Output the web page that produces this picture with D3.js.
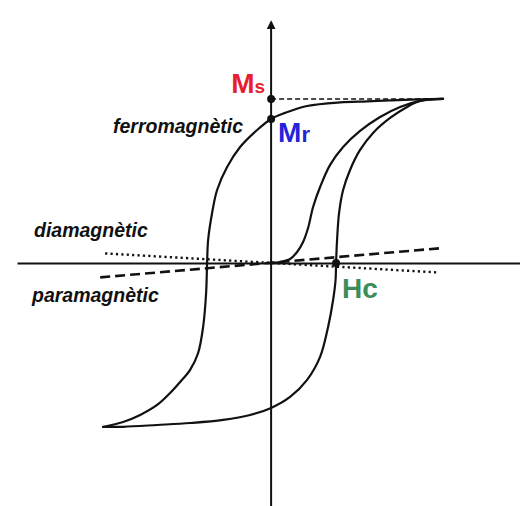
<!DOCTYPE html>
<html>
<head>
<meta charset="utf-8">
<script src="https://cdn.jsdelivr.net/npm/d3@7"></script>
<style>
  html, body { margin: 0; padding: 0; background: #ffffff; }
  svg { display: block; }
  text { font-family: "Liberation Sans", Arial, Helvetica, sans-serif; }
</style>
</head>
<body>
<svg id="chart" width="520" height="506"></svg>
<script>
// Axis extents (H normalised to Hc, M normalised to Ms)
const hExtent = [-3.91, 3.83];
const mExtent = [1.518, -1.482];

// Descending (upper) branch of the hysteresis loop: [H, M]
const descendingBranch = [
  [2.646, 1.0], [2.292, 0.998], [1.831, 0.991], [1.477, 0.985], [1.062, 0.979],
  [0.554, 0.957], [0.215, 0.915], [0.0, 0.878], [-0.215, 0.811], [-0.477, 0.707],
  [-0.677, 0.585], [-0.831, 0.445], [-0.908, 0.305], [-0.969, 0.140], [-0.985, 0.0],
  [-1.0, -0.183], [-1.046, -0.390], [-1.123, -0.549], [-1.246, -0.652], [-1.4, -0.726],
  [-1.554, -0.793], [-1.754, -0.866], [-2.015, -0.927], [-2.277, -0.970], [-2.585, -1.0]
];

// Ascending (lower) branch of the hysteresis loop: [H, M]
const ascendingBranch = [
  [-2.585, -1.0], [-2.277, -0.999], [-1.754, -0.988], [-1.246, -0.976], [-0.738, -0.957],
  [-0.323, -0.927], [0.0, -0.884], [0.292, -0.817], [0.554, -0.713], [0.754, -0.573],
  [0.877, -0.390], [0.954, -0.226], [0.992, -0.104], [1.0, 0.0], [1.015, 0.140],
  [1.046, 0.305], [1.108, 0.445], [1.215, 0.567], [1.369, 0.689], [1.569, 0.793],
  [1.831, 0.884], [2.092, 0.951], [2.292, 0.988], [2.646, 1.0]
];

// Initial magnetisation curve from the demagnetised state: [H, M]
const virginCurve = [
  [0.0, 0.0], [0.138, 0.006], [0.292, 0.024], [0.4, 0.067], [0.492, 0.128],
  [0.569, 0.213], [0.646, 0.341], [0.754, 0.463], [0.908, 0.598], [1.108, 0.707],
  [1.369, 0.805], [1.677, 0.890], [1.985, 0.951], [2.292, 0.988], [2.646, 1.0]
];

// Linear responses: endpoints [H, M]
const paramagneticLine = [[-2.63, -0.088], [2.646, 0.091]];
const diamagneticLine = [[-2.554, 0.058], [2.569, -0.058]];

// Characteristic points
const saturation = [0, 1.0];      // Ms
const remanence = [0, 0.878];     // Mr
const coercivity = [1.0, 0];      // Hc
const saturationGuide = [[0, 1.0], [2.646, 1.0]];

const svg = d3.select("#chart");

const x = d3.scaleLinear().domain(hExtent).range([17, 520]);
const y = d3.scaleLinear().domain(mExtent).range([14, 506]);

// Arrowhead marker for the M axis
const defs = svg.append("defs");
defs.append("marker")
  .attr("id", "arrow")
  .attr("viewBox", "0 0 10 10")
  .attr("refX", 8).attr("refY", 5)
  .attr("markerWidth", 4.5).attr("markerHeight", 4.5)
  .attr("markerUnits", "strokeWidth")
  .attr("orient", "auto")
  .append("path")
  .attr("d", "M0,0L10,5L0,10Z")
  .attr("fill", "#111");

// Axes through the origin, no ticks
const xAxis = svg.append("g")
  .attr("transform", `translate(0,${y(0)})`)
  .call(d3.axisBottom(x).tickValues([]).tickSizeOuter(0));
xAxis.select(".domain")
  .attr("stroke", "#111").attr("stroke-width", 2);

const yAxis = svg.append("g")
  .attr("transform", `translate(${x(0)},0)`)
  .call(d3.axisLeft(y).tickValues([]).tickSizeOuter(0));
yAxis.select(".domain")
  .attr("stroke", "#111").attr("stroke-width", 2)
  .attr("d", `M0,${y(mExtent[1])}V${y(mExtent[0]) + 8}`)
  .attr("marker-end", "url(#arrow)");

const line = d3.line()
  .x(d => x(d[0]))
  .y(d => y(d[1]));

const smooth = d3.line()
  .x(d => x(d[0]))
  .y(d => y(d[1]))
  .curve(d3.curveCatmullRom.alpha(0.5));

// Saturation guide
svg.append("path")
  .datum(saturationGuide)
  .attr("d", line)
  .attr("fill", "none")
  .attr("stroke", "#111")
  .attr("stroke-width", 1.6)
  .attr("stroke-dasharray", "5,3");

// Paramagnetic response (dashed)
svg.append("path")
  .datum(paramagneticLine)
  .attr("d", line)
  .attr("fill", "none")
  .attr("stroke", "#111")
  .attr("stroke-width", 2.6)
  .attr("stroke-dasharray", "10,5");

// Diamagnetic response (dotted)
svg.append("path")
  .datum(diamagneticLine)
  .attr("d", line)
  .attr("fill", "none")
  .attr("stroke", "#111")
  .attr("stroke-width", 2.4)
  .attr("stroke-dasharray", "2.2,3.2");

// Ferromagnetic hysteresis loop and initial curve
[descendingBranch, ascendingBranch, virginCurve].forEach(curve => {
  svg.append("path")
    .datum(curve)
    .attr("d", smooth)
    .attr("fill", "none")
    .attr("stroke", "#111")
    .attr("stroke-width", 2.2)
    .attr("stroke-linejoin", "round")
    .attr("stroke-linecap", "round");
});

// Markers at Ms, Mr and Hc
svg.selectAll("circle.pt")
  .data([saturation, remanence, coercivity])
  .join("circle")
  .attr("class", "pt")
  .attr("cx", d => x(d[0]))
  .attr("cy", d => y(d[1]))
  .attr("r", 4)
  .attr("fill", "#111");

// Point labels
const ms = svg.append("text")
  .attr("x", x(saturation[0]) - 6)
  .attr("y", y(saturation[1]) - 6)
  .attr("text-anchor", "end")
  .attr("fill", "#e61e30")
  .attr("font-weight", "bold")
  .attr("font-size", 28);
ms.append("tspan").text("M");
ms.append("tspan").attr("font-size", 19).text("s");

const mr = svg.append("text")
  .attr("x", x(remanence[0]) + 7)
  .attr("y", y(remanence[1]) + 23)
  .attr("fill", "#2323dc")
  .attr("font-weight", "bold")
  .attr("font-size", 28);
mr.append("tspan").text("M");
mr.append("tspan").attr("font-size", 22).text("r");

svg.append("text")
  .attr("x", x(coercivity[0]) + 6)
  .attr("y", y(coercivity[1]) + 35)
  .attr("fill", "#3d8c5c")
  .attr("font-weight", "bold")
  .attr("font-size", 28)
  .text("Hc");

// Material labels
const materialLabels = [
  { text: "ferromagnètic", x: 113, y: 133 },
  { text: "diamagnètic", x: 34, y: 237 },
  { text: "paramagnètic", x: 32, y: 302 }
];
svg.selectAll("text.material")
  .data(materialLabels)
  .join("text")
  .attr("class", "material")
  .attr("x", d => d.x)
  .attr("y", d => d.y)
  .attr("font-style", "italic")
  .attr("font-weight", "bold")
  .attr("font-size", 19.5)
  .attr("fill", "#111")
  .text(d => d.text);
</script>
</body>
</html>
